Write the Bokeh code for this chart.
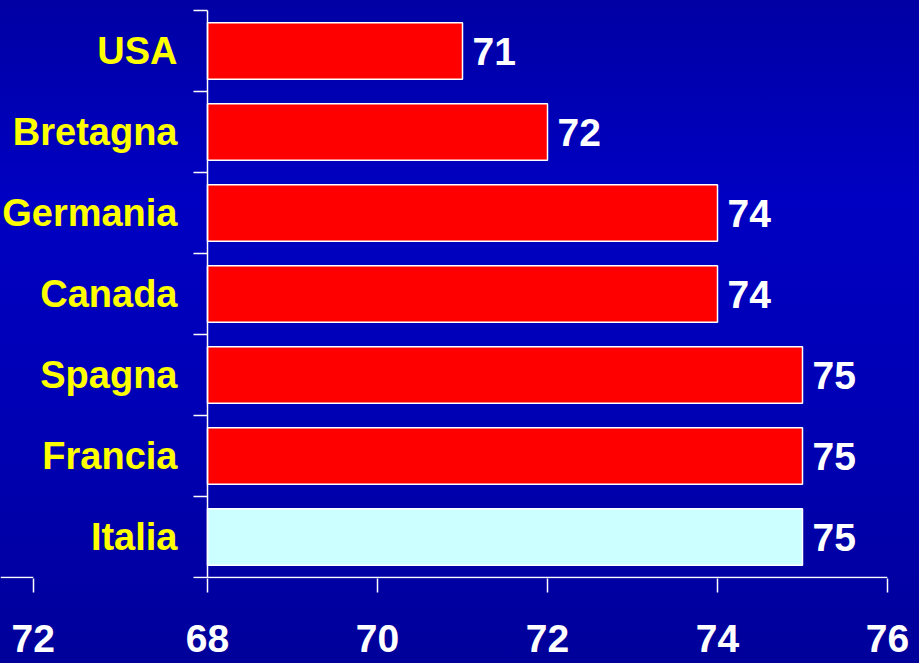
from bokeh.plotting import figure
from bokeh.models import FixedTicker, ColumnDataSource
from bokeh.embed import file_html
from bokeh.resources import INLINE
from bokeh.core.properties import value

# ---- data ----
countries = ["Italia", "Francia", "Spagna", "Canada", "Germania", "Bretagna", "USA"]
values = [75, 75, 75, 74, 74, 72, 71]
bar_colors = ["#CCFFFF", "#FF0000", "#FF0000", "#FF0000", "#FF0000", "#FF0000", "#FF0000"]
x_ticks = [68, 70, 72, 74, 76]
# remnant of a neighbouring chart's axis visible at the far left
ghost_tick = 65.95
ghost_label = "72"

FONT = "Liberation Sans"
FS = "39px"
W, H = 919, 663
LEFT_PX, RIGHT_PX, TOP_PX, BOTTOM_PX = 207, 32, 10, 86
X0, X1 = x_ticks[0], x_ticks[-1]
n = len(countries)

px_x = (W - LEFT_PX - RIGHT_PX) / (X1 - X0)        # pixels per x unit
px_y = (H - TOP_PX - BOTTOM_PX) / n                 # pixels per category
TICK = 14                                           # tick length in px

ypos = [i + 0.5 for i in range(n)]
src = ColumnDataSource(dict(y=ypos, val=values, color=bar_colors,
                            lab=[str(v) for v in values], name=countries))

p = figure(width=W, height=H,
           x_range=(X0 - LEFT_PX / px_x, X1),
           y_range=(-1.0 / px_y, n + TOP_PX / px_y),
           y_axis_location=None,
           output_backend="svg", toolbar_location=None,
           min_border_left=0, min_border_right=RIGHT_PX, min_border_top=0,
           min_border_bottom=BOTTOM_PX - 1)
p.styles = {"position": "fixed", "left": "0px", "top": "0px",
            "background": "linear-gradient(180deg, #0000A4 0%, #0000C2 30%, #0000B6 60%, #00009A 100%)"}
p.background_fill_color = None
p.border_fill_color = None
p.outline_line_color = None
p.xgrid.visible = False
p.ygrid.visible = False

# bars and value labels
p.hbar(y="y", left=X0, right="val", height=0.7, fill_color="color",
       line_color="white", line_width=1.5, source=src)
p.text(x="val", y="y", text="lab", x_offset=10, text_baseline="middle", text_align="left",
       text_color="white", text_font=value(FONT), text_font_style="bold",
       text_font_size=FS, source=src)

# category labels
p.text(x=X0, y="y", text="name", x_offset=-30, text_baseline="middle", text_align="right",
       text_color="#FFFF00", text_font=value(FONT), text_font_style="bold",
       text_font_size="38px", source=src)

# y axis line and boundary ticks
bounds = list(range(n + 1))
p.segment(x0=[X0], y0=[0], x1=[X0], y1=[n], line_color="white", line_width=1.5)
p.segment(x0=[X0 - TICK / px_x] * len(bounds), y0=bounds, x1=[X0] * len(bounds), y1=bounds,
          line_color="white", line_width=1.5)
# x axis line, and the fragment of the neighbouring axis
p.segment(x0=[X0, X0 - LEFT_PX / px_x], y0=[0, 0], x1=[X1, ghost_tick], y1=[0, 0],
          line_color="white", line_width=1.5)

# x axis (ticks + labels)
xa = p.xaxis[0]
xa.ticker = FixedTicker(ticks=[ghost_tick] + x_ticks, minor_ticks=[])
xa.major_label_overrides = {ghost_tick: ghost_label}
xa.axis_line_color = None
xa.major_tick_line_color = "white"
xa.major_tick_line_width = 1.5
xa.major_tick_out = TICK
xa.major_tick_in = 0
xa.minor_tick_line_color = None
xa.major_label_standoff = 32
xa.major_label_text_color = "white"
xa.major_label_text_font = FONT
xa.major_label_text_font_style = "bold"
xa.major_label_text_font_size = FS

open("out.html", "w").write(file_html(p, INLINE))
